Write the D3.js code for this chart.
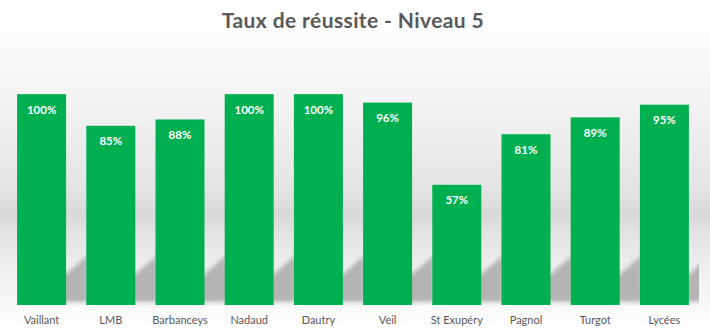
<!DOCTYPE html>
<html>
<head>
<meta charset="utf-8">
<script src="https://cdn.jsdelivr.net/npm/d3@7"></script>
<style>
  html, body { margin: 0; padding: 0; background: #fff; }
  svg { display: block; }
</style>
</head>
<body>
<div id="chart"></div>
<script>
// Taux de réussite par établissement (niveau 5)
const categories = ["Vaillant", "LMB", "Barbanceys", "Nadaud", "Dautry", "Veil", "St Exupéry", "Pagnol", "Turgot", "Lycées"];
const rates = [1.00, 0.85, 0.88, 1.00, 1.00, 0.96, 0.57, 0.81, 0.89, 0.95];
const title = "Taux de réussite - Niveau 5";

const width = 710, height = 331;
const plot = { left: 7, right: 699, top: 52, bottom: 305 };

const svg = d3.select("#chart").append("svg")
  .attr("width", width).attr("height", height);

const defs = svg.append("defs");

// soft vertical background gradient with a darker band behind the bars
const bg = defs.append("linearGradient")
  .attr("id", "bg").attr("x1", 0).attr("y1", 0).attr("x2", 0).attr("y2", 1);
[
  [0.00, "#ffffff"], [0.12, "#fcfcfc"], [0.35, "#f1f1f1"], [0.58, "#e3e3e3"],
  [0.65, "#d8d8d8"], [0.70, "#e2e2e2"], [0.80, "#eeeeee"], [0.90, "#f7f7f7"],
  [0.95, "#fbfbfb"], [1.00, "#ffffff"]
].forEach(([o, c]) => bg.append("stop").attr("offset", o).attr("stop-color", c));

const blur = defs.append("filter").attr("id", "soft")
  .attr("x", "-50%").attr("y", "-50%").attr("width", "200%").attr("height", "200%");
blur.append("feGaussianBlur").attr("stdDeviation", 2.2);

defs.append("clipPath").attr("id", "plotClip")
  .append("rect")
  .attr("x", plot.left).attr("y", plot.top)
  .attr("width", plot.right - plot.left).attr("height", plot.bottom - plot.top + 2);

svg.append("rect").attr("width", width).attr("height", height).attr("fill", "url(#bg)");

const x = d3.scaleBand()
  .domain(categories)
  .range([plot.left, plot.right])
  .paddingInner(0.292)
  .paddingOuter(0.146);

const y = d3.scaleLinear()
  .domain([0, 1.2])
  .range([plot.bottom, plot.top]);

const data = categories.map((c, i) => ({ cat: c, v: rates[i] }));

// perspective shadows cast to the right of each bar
const gap = x.step() - x.bandwidth();
svg.append("g").attr("clip-path", "url(#plotClip)")
  .selectAll("polygon").data(data).join("polygon")
  .attr("fill", "#b4b4b4")
  .attr("filter", "url(#soft)")
  .attr("points", d => {
    const x1 = x(d.cat) + x.bandwidth();
    const yb = y(0);
    return [
      [x1 - 6, yb - 26],
      [x1 + gap + 2, yb - 50],
      [x1 + gap + 2, yb - 3],
      [x1 - 6, yb - 3]
    ].map(p => p.join(",")).join(" ");
  });

// bars
svg.append("g").selectAll("rect").data(data).join("rect")
  .attr("x", d => x(d.cat))
  .attr("y", d => y(d.v))
  .attr("width", x.bandwidth())
  .attr("height", d => y(0) - y(d.v))
  .attr("fill", "#00b050");

// value labels inside the bar tops
svg.append("g").selectAll("text").data(data).join("text")
  .attr("x", d => x(d.cat) + x.bandwidth() / 2)
  .attr("y", d => y(d.v) + 19.5)
  .attr("text-anchor", "middle")
  .attr("font-family", "Lato, 'Open Sans', sans-serif")
  .attr("font-weight", "bold")
  .attr("font-size", "11.5px")
  .attr("fill", "#ffffff")
  .text(d => d3.format(".0%")(d.v));

// category axis
const xAxis = svg.append("g")
  .attr("transform", `translate(0,${plot.bottom})`)
  .call(d3.axisBottom(x).tickSize(0).tickPadding(0));
xAxis.select(".domain").remove();
xAxis.selectAll("text")
  .attr("y", 19)
  .attr("dy", 0)
  .attr("font-family", "Lato, 'Open Sans', sans-serif")
  .attr("font-size", "11px")
  .attr("fill", "#595959");

// title
svg.append("text")
  .attr("x", 353)
  .attr("y", 27.5)
  .attr("text-anchor", "middle")
  .attr("font-family", "Lato, 'Open Sans', sans-serif")
  .attr("font-weight", "bold")
  .attr("font-size", "21px")
  .attr("letter-spacing", "0.4px")
  .attr("fill", "#595959")
  .text(title);
</script>
</body>
</html>
